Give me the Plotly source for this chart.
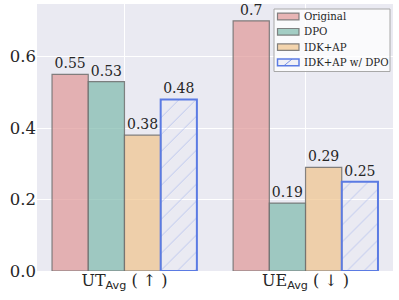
import plotly.graph_objects as go

categories = ["UT<sub><span style='font-family:DejaVu Sans'>Avg</span></sub> ( ↑ )",
              "UE<sub><span style='font-family:DejaVu Sans'>Avg</span></sub> ( ↓ )"]
series_names = ["Original", "DPO", "IDK+AP", "IDK+AP w/ DPO"]
original = [0.55, 0.70]
dpo = [0.53, 0.19]
idk_ap = [0.38, 0.29]
idk_ap_dpo = [0.48, 0.25]
labels_orig = ["0.55", "0.7"]
labels_dpo = ["0.53", "0.19"]
labels_idk = ["0.38", "0.29"]
labels_idkdpo = ["0.48", "0.25"]

x = [0, 1]
serif = "'DejaVu Serif', 'Liberation Serif', serif"
txt = "#262626"
fills = ["rgba(223,151,151,0.7)", "rgba(125,185,173,0.7)", "rgba(240,195,139,0.7)"]
edge = "rgba(110,110,110,0.85)"
blue = "#5b7be3"

L, R, T, B, W, H = 37, 6, 4, 29, 399, 300
PW, PH = W - L - R, H - T - B


def px(v):
    return (v - L) / PW


def py(v):
    return 1 - (v - T) / PH


fig = go.Figure()
for name, vals, labs, col in zip(series_names[:3], [original, dpo, idk_ap],
                                  [labels_orig, labels_dpo, labels_idk], fills):
    fig.add_trace(go.Bar(
        x=x, y=vals, name=name, text=labs, textposition="outside",
        textfont=dict(family=serif, size=14, color=txt),
        marker=dict(color=col, line=dict(color=edge, width=1.2)),
        cliponaxis=False, showlegend=False,
    ))

fig.add_trace(go.Bar(
    x=x, y=idk_ap_dpo, name=series_names[3], text=labels_idkdpo, textposition="outside",
    textfont=dict(family=serif, size=14, color=txt),
    marker=dict(color="rgba(0,0,0,0)",
                line=dict(color=blue, width=2),
                pattern=dict(shape="/", fgcolor="rgba(91,123,227,0.8)", bgcolor="rgba(0,0,0,0)",
                             size=12, solidity=0.07)),
    cliponaxis=False, showlegend=False,
))

# manual legend (matplotlib-like)
shapes = [dict(type="rect", xref="paper", yref="paper",
               x0=px(274), x1=px(390), y0=py(71.5), y1=py(9),
               fillcolor="rgba(255,255,255,0.75)", line=dict(color="#a8a8a8", width=1), layer="above")]
annotations = []
sw_fill = fills + ["rgba(234,234,242,0.6)"]
sw_line = [edge, edge, edge, blue]
for i, name in enumerate(series_names):
    cy = 16.5 + i * 15.3
    shapes.append(dict(type="rect", xref="paper", yref="paper",
                       x0=px(277.5), x1=px(299), y0=py(cy + 3.3), y1=py(cy - 3.3),
                       fillcolor=sw_fill[i], line=dict(color=sw_line[i], width=1.5 if i == 3 else 1.2),
                       layer="above"))
    if i == 3:
        shapes.append(dict(type="line", xref="paper", yref="paper",
                           x0=px(284), x1=px(292), y0=py(cy + 3.3), y1=py(cy - 3.3),
                           line=dict(color=blue, width=0.8), layer="above"))
    annotations.append(dict(text=name, xref="paper", yref="paper", x=px(301.5), y=py(cy),
                            xanchor="left", yanchor="middle", showarrow=False,
                            font=dict(family=serif, size=10.2, color=txt)))

fig.update_layout(
    width=W, height=H,
    margin=dict(l=L, r=R, t=T, b=B),
    barmode="group", bargap=0.2, bargroupgap=0,
    plot_bgcolor="#eaeaf2", paper_bgcolor="white",
    font=dict(family=serif, color=txt),
    showlegend=False,
    shapes=shapes, annotations=annotations,
    xaxis=dict(tickvals=x, ticktext=categories, range=[-0.483, 1.483],
               showgrid=True, gridcolor="white", gridwidth=1, zeroline=False,
               tickfont=dict(family=serif, size=16, color=txt), ticks="", ticklen=0,
               ticklabelstandoff=-2),
    yaxis=dict(range=[0, 0.747], tickvals=[0, 0.2, 0.4, 0.6], tickformat=".1f",
               showgrid=True, gridcolor="white", gridwidth=1, zeroline=False,
               tickfont=dict(family=serif, size=16.5, color=txt), ticks="", ticklen=0),
)

fig.write_html("out.html", config={"displayModeBar": False},
               post_script="document.body.style.margin='0';")
